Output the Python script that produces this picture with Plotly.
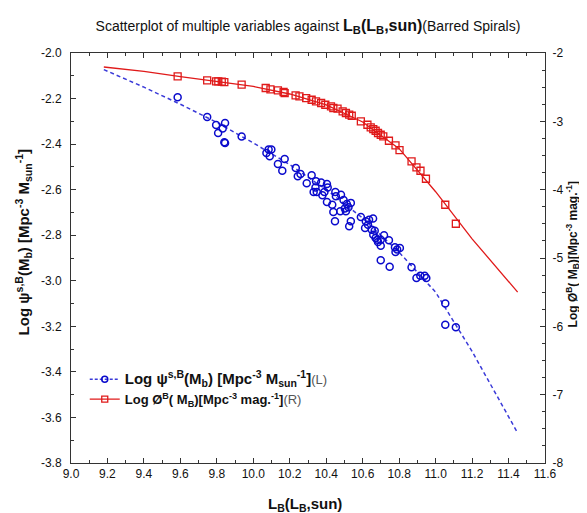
import plotly.graph_objects as go

# ---- data ----
# Blue circles: Log psi^{s,B}(M_b) vs L_B  (left axis)
psi_x = [9.585, 9.747, 9.796, 9.845, 9.832, 9.807, 9.841, 9.845, 9.936,
         10.072, 10.084, 10.099, 10.090, 10.172, 10.135, 10.159, 10.233, 10.244, 10.259,
         10.320, 10.293, 10.344, 10.372, 10.404, 10.408, 10.341, 10.331, 10.348, 10.390,
         10.379, 10.450, 10.481, 10.453, 10.404, 10.433, 10.495, 10.513, 10.535, 10.502,
         10.522, 10.508, 10.477, 10.439, 10.448, 10.535, 10.526, 10.590, 10.617, 10.635,
         10.657, 10.629, 10.650, 10.613, 10.666, 10.658, 10.671, 10.680, 10.699, 10.684,
         10.717, 10.744, 10.699, 10.777, 10.789, 10.804, 10.780, 10.699, 10.748, 10.868,
         10.895, 10.916, 10.940, 10.949, 11.053, 11.053, 11.111]
psi_y = [-2.194, -2.281, -2.316, -2.307, -2.331, -2.351, -2.392, -2.395, -2.367,
         -2.439, -2.424, -2.424, -2.453, -2.465, -2.487, -2.517, -2.505, -2.541, -2.531,
         -2.537, -2.572, -2.563, -2.569, -2.575, -2.590, -2.590, -2.610, -2.610, -2.610,
         -2.625, -2.610, -2.622, -2.629, -2.654, -2.666, -2.645, -2.663, -2.658, -2.683,
         -2.677, -2.695, -2.695, -2.698, -2.739, -2.739, -2.761, -2.720, -2.739, -2.732,
         -2.727, -2.754, -2.776, -2.768, -2.780, -2.798, -2.812, -2.820, -2.820, -2.830,
         -2.800, -2.822, -2.846, -2.853, -2.863, -2.856, -2.874, -2.910, -2.938, -2.941,
         -2.988, -2.978, -2.978, -2.988, -3.100, -3.193, -3.204]

# Blue dashed fit (left axis)
psi_fit_x = [9.18, 9.4, 9.6, 9.8, 10.0, 10.2, 10.4, 10.6, 10.8, 11.0, 11.2, 11.45]
psi_fit_y = [-2.073, -2.15, -2.225, -2.305, -2.395, -2.49, -2.60, -2.725, -2.875,
             -3.05, -3.31, -3.668]

# Red squares: Log phi^B(M_B) vs L_B  (right axis)
phi_x = [9.585, 9.747, 9.796, 9.808, 9.827, 9.841, 9.936, 10.068, 10.094, 10.135,
         10.166, 10.172, 10.232, 10.253, 10.290, 10.320, 10.344, 10.372, 10.395, 10.426,
         10.439, 10.462, 10.490, 10.508, 10.526, 10.540, 10.590, 10.626, 10.644, 10.658,
         10.671, 10.684, 10.699, 10.713, 10.744, 10.780, 10.802, 10.868, 10.895, 10.917,
         10.947, 11.053, 11.111]
phi_y = [-2.341, -2.400, -2.414, -2.414, -2.420, -2.425, -2.464, -2.512, -2.531, -2.546,
         -2.571, -2.586, -2.619, -2.634, -2.659, -2.684, -2.707, -2.732, -2.757, -2.780,
         -2.805, -2.815, -2.854, -2.878, -2.903, -2.918, -3.000, -3.050, -3.088, -3.113,
         -3.138, -3.171, -3.196, -3.220, -3.284, -3.351, -3.420, -3.586, -3.673, -3.723,
         -3.840, -4.221, -4.499]

# Red solid fit (right axis)
phi_fit_x = [9.18, 9.4, 9.6, 9.8, 10.0, 10.2, 10.4, 10.6, 10.8, 11.0, 11.2, 11.45]
phi_fit_y = [-2.205, -2.27, -2.345, -2.415, -2.49, -2.60, -2.76, -3.01, -3.40,
             -4.03, -4.72, -5.499]

x_ticks = [9.0, 9.2, 9.4, 9.6, 9.8, 10.0, 10.2, 10.4, 10.6, 10.8, 11.0, 11.2, 11.4, 11.6]
yl_ticks = [-2.0, -2.2, -2.4, -2.6, -2.8, -3.0, -3.2, -3.4, -3.6, -3.8]
yr_ticks = [-2, -3, -4, -5, -6, -7, -8]

BLUE = "#0a0acc"
BLUE_LINE = "#3a3ad8"
RED = "#e01a1a"
FONT = "Liberation Sans, Arial, sans-serif"

fig = go.Figure()

fig.add_trace(go.Scatter(x=psi_fit_x, y=psi_fit_y, mode="lines",
                         line=dict(color=BLUE_LINE, width=1.5, dash="4px,3px"),
                         showlegend=False, yaxis="y"))
fig.add_trace(go.Scatter(x=psi_x, y=psi_y, mode="markers",
                         marker=dict(symbol="circle-open", size=7, color=BLUE,
                                     line=dict(width=1.5, color=BLUE)),
                         showlegend=False, yaxis="y"))
fig.add_trace(go.Scatter(x=phi_fit_x, y=phi_fit_y, mode="lines",
                         line=dict(color=RED, width=1.3),
                         showlegend=False, yaxis="y2"))
fig.add_trace(go.Scatter(x=phi_x, y=phi_y, mode="markers",
                         marker=dict(symbol="square-open", size=7, color=RED,
                                     line=dict(width=1.3, color=RED)),
                         showlegend=False, yaxis="y2"))

# legend entries (line + marker)
fig.add_trace(go.Scatter(x=[None], y=[None], mode="lines+markers",
                         line=dict(color=BLUE_LINE, width=1.5, dash="3px,2px"),
                         marker=dict(symbol="circle-open", size=6, color=BLUE,
                                     line=dict(width=1.5, color=BLUE)),
                         name="<b><span style='font-size:15px'>Log ψ<sup>s,B</sup>(M<sub>b</sub>) [Mpc<sup>-3</sup> M<sub>sun</sub><sup>-1</sup>]</span></b>"
                              "<span style='font-size:13px;color:#555'>(L)</span>",
                         yaxis="y"))
fig.add_trace(go.Scatter(x=[None], y=[None], mode="lines+markers",
                         line=dict(color=RED, width=1.3),
                         marker=dict(symbol="square-open", size=6, color=RED,
                                     line=dict(width=1.3, color=RED)),
                         name="<b><span style='font-size:13px'>Log Ø<sup>B</sup>( M<sub>B</sub>)[Mpc<sup>-3</sup> mag.<sup>-1</sup>]</span></b>"
                              "<span style='font-size:13px;color:#555'>(R)</span>",
                         yaxis="y2"))

axis_common = dict(ticks="inside", ticklen=5, tickcolor="#333",
                   showline=True, linecolor="#333", linewidth=1,
                   showgrid=False, zeroline=False,
                   tickfont=dict(family=FONT, size=12, color="#111"))

fig.update_layout(
    width=587, height=513,
    margin=dict(l=63, r=50, t=45, b=58),
    paper_bgcolor="white", plot_bgcolor="white",
    font=dict(family=FONT, size=13, color="#111"),
    title=dict(
        text="Scatterplot of multiple variables against "
             "<b><span style='font-size:16px'>L<sub>B</sub>(L<sub>B</sub>,sun)</span></b>"
             "(Barred Spirals)",
        x=0.5, xref="paper", xanchor="center",
        y=0.965, yref="container", yanchor="middle",
        font=dict(family=FONT, size=14, color="#111"),
    ),
    xaxis=dict(
        range=[9.0, 11.6], tickvals=x_ticks, ticktext=[f"{v:.1f}" for v in x_ticks],
        mirror="ticks",
        minor=dict(dtick=0.1, ticks="inside", ticklen=3, tickcolor="#333"),
        **axis_common,
    ),
    yaxis=dict(
        range=[-3.8, -2.0], tickvals=yl_ticks, ticktext=[f"{v:.1f}" for v in yl_ticks],
        minor=dict(dtick=0.1, ticks="inside", ticklen=3, tickcolor="#333"),
        ticklabelstandoff=6,
        **axis_common,
    ),
    yaxis2=dict(
        range=[-8, -2], tickvals=yr_ticks, ticktext=[str(v) for v in yr_ticks],
        overlaying="y", side="right", anchor="x",
        minor=dict(dtick=0.25, ticks="inside", ticklen=3, tickcolor="#333"),
        ticklabelstandoff=4,
        **axis_common,
    ),
    legend=dict(x=0.029, y=0.241, xanchor="left", yanchor="top",
                bgcolor="rgba(0,0,0,0)", itemwidth=30, tracegroupgap=0,
                font=dict(family=FONT, size=13)),
    annotations=[
        dict(text="<b>L<sub>B</sub>(L<sub>B</sub>,sun)</b>",
             xref="paper", yref="paper", x=0.493, y=-0.1,
             xanchor="center", yanchor="middle", showarrow=False,
             font=dict(family=FONT, size=15, color="#111")),
        dict(text="<b>Log ψ<sup>s,B</sup>(M<sub>b</sub>) [Mpc<sup>-3</sup> M<sub>sun</sub><sup>-1</sup>]</b>",
             xref="paper", yref="paper", x=-0.1, y=0.537, textangle=-90,
             xanchor="center", yanchor="middle", showarrow=False,
             font=dict(family=FONT, size=15, color="#111")),
        dict(text="<b>Log Ø<sup>B</sup>( M<sub>B</sub>)[Mpc<sup>-3</sup> mag.<sup>-1</sup>]</b>",
             xref="paper", yref="paper", x=1.058, y=0.51, textangle=-90,
             xanchor="center", yanchor="middle", showarrow=False,
             font=dict(family=FONT, size=12, color="#111")),
    ],
)

fig.write_html("out.html")
